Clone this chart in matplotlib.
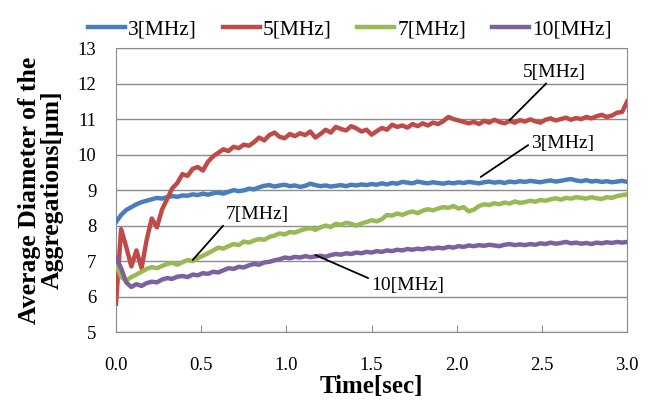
import matplotlib.pyplot as plt
import numpy as np

plt.rcParams['font.family'] = ['Liberation Serif', 'DejaVu Serif']

# time axis, sampled every 0.03 sec
time_sec = np.round(np.arange(0, 3.0001, 0.03), 2)

# average diameter for each frequency
d_3mhz = [8.10, 8.30, 8.44, 8.52, 8.60, 8.66, 8.70, 8.74, 8.78, 8.76,
          8.80, 8.83, 8.81, 8.85, 8.84, 8.88, 8.86, 8.90, 8.87, 8.91,
          8.93, 8.90, 8.95, 9.00, 8.97, 8.99, 9.04, 9.02, 9.08, 9.12,
          9.14, 9.10, 9.13, 9.15, 9.11, 9.13, 9.09, 9.12, 9.18, 9.14,
          9.11, 9.13, 9.10, 9.12, 9.14, 9.11, 9.15, 9.13, 9.16, 9.14,
          9.17, 9.15, 9.19, 9.16, 9.20, 9.18, 9.23, 9.21, 9.19, 9.24,
          9.21, 9.19, 9.22, 9.20, 9.18, 9.21, 9.19, 9.22, 9.20, 9.23,
          9.21, 9.19, 9.22, 9.24, 9.21, 9.23, 9.20, 9.24, 9.22, 9.25,
          9.23, 9.26, 9.24, 9.22, 9.25, 9.27, 9.24, 9.26, 9.29, 9.31,
          9.27, 9.25, 9.28, 9.24, 9.26, 9.23, 9.25, 9.22, 9.24, 9.26,
          9.23]
d_5mhz = [5.80, 7.90, 7.40, 6.85, 7.30, 6.80, 7.60, 8.20, 7.95, 8.45,
          8.75, 9.05, 9.20, 9.45, 9.40, 9.60, 9.65, 9.55, 9.80, 9.95,
          10.05, 10.15, 10.10, 10.22, 10.18, 10.28, 10.25, 10.35, 10.48, 10.40,
          10.55, 10.62, 10.50, 10.46, 10.58, 10.52, 10.60, 10.55, 10.65, 10.48,
          10.58, 10.70, 10.62, 10.78, 10.72, 10.68, 10.80, 10.74, 10.65, 10.70,
          10.56, 10.66, 10.75, 10.70, 10.84, 10.78, 10.82, 10.76, 10.86, 10.80,
          10.88, 10.82, 10.90, 10.86, 10.94, 11.06, 11.00, 10.96, 10.92, 10.88,
          10.92, 10.86, 10.95, 10.90, 10.98, 10.92, 10.88, 10.95, 10.90, 10.97,
          10.93, 10.99, 10.94, 10.90, 10.98, 11.02, 10.96, 11.00, 11.04, 10.98,
          11.03, 11.00, 11.06, 11.02, 11.08, 11.12, 11.06, 11.10, 11.18, 11.20,
          11.50]
d_7mhz = [6.90, 6.55, 6.45, 6.55, 6.62, 6.70, 6.78, 6.83, 6.80, 6.86,
          6.92, 6.95, 6.90, 6.97, 7.03, 7.00, 7.08, 7.15, 7.22, 7.30,
          7.38, 7.35, 7.42, 7.48, 7.45, 7.55, 7.52, 7.58, 7.62, 7.60,
          7.68, 7.72, 7.78, 7.75, 7.82, 7.80, 7.86, 7.90, 7.93, 7.88,
          7.95, 8.00, 7.96, 8.05, 8.02, 8.08, 8.05, 8.00, 8.06, 8.10,
          8.15, 8.12, 8.18, 8.30, 8.28, 8.34, 8.30, 8.36, 8.40, 8.35,
          8.42, 8.46, 8.43, 8.48, 8.52, 8.50, 8.55, 8.48, 8.52, 8.40,
          8.45, 8.55, 8.60, 8.58, 8.63, 8.60, 8.65, 8.62, 8.68, 8.64,
          8.66, 8.70, 8.67, 8.72, 8.70, 8.74, 8.77, 8.73, 8.78, 8.76,
          8.80, 8.78, 8.76, 8.80, 8.77, 8.75, 8.80, 8.78, 8.83, 8.86,
          8.88]
d_10mhz = [7.10, 6.80, 6.40, 6.27, 6.35, 6.30, 6.38, 6.42, 6.40, 6.48,
           6.52, 6.50, 6.56, 6.58, 6.55, 6.62, 6.60, 6.66, 6.64, 6.70,
           6.68, 6.74, 6.80, 6.78, 6.84, 6.82, 6.88, 6.92, 6.90, 6.96,
           6.98, 7.02, 7.05, 7.10, 7.08, 7.12, 7.10, 7.14, 7.11, 7.13,
           7.15, 7.12, 7.17, 7.20, 7.18, 7.22, 7.20, 7.24, 7.22, 7.26,
           7.24, 7.28, 7.26, 7.30, 7.28, 7.32, 7.30, 7.34, 7.32, 7.35,
           7.33, 7.37, 7.35, 7.38, 7.36, 7.40, 7.38, 7.42, 7.40, 7.44,
           7.42, 7.45, 7.43, 7.46, 7.44, 7.42, 7.46, 7.48, 7.45, 7.47,
           7.45, 7.48, 7.46, 7.50, 7.48, 7.52, 7.49, 7.51, 7.54, 7.50,
           7.52, 7.49, 7.51, 7.48, 7.52, 7.50, 7.53, 7.51, 7.54, 7.52,
           7.54]

labels = ['3[MHz]', '5[MHz]', '7[MHz]', '10[MHz]']
colors = ['#4a7ebb', '#be4b48', '#98b954', '#7d60a0']

fig = plt.figure(figsize=(6.48, 4.04), dpi=100)
ax = fig.add_axes([0.179, 0.178, 0.789, 0.703])

for d, lab, c in zip([d_3mhz, d_5mhz, d_7mhz, d_10mhz], labels, colors):
    ax.plot(time_sec, d, color=c, linewidth=3.2, label=lab, zorder=3)

# callout labels with leader lines: (text, point on line, text centre, where the line leaves the text)
callouts = [('5[MHz]', (2.31, 10.97), (2.57, 12.32), (0.42, 0.0)),
            ('3[MHz]', (2.14, 9.37), (2.62, 10.32), (0.0, 0.5)),
            ('7[MHz]', (0.45, 7.03), (0.83, 8.30), (0.0, 0.05)),
            ('10[MHz]', (1.17, 7.17), (1.71, 6.32), (0.0, 0.85))]
for txt, xy, xytext, rp in callouts:
    ax.annotate(txt, xy=xy, xytext=xytext, fontsize=14, ha='center', va='center',
                arrowprops=dict(arrowstyle='-', color='black', lw=1.3, shrinkA=0,
                                shrinkB=0, relpos=rp),
                zorder=4)

ax.set_xlim(0, 3.0)
ax.set_ylim(5, 13)
ax.set_xticks(np.arange(0, 3.01, 0.5))
ax.set_xticklabels([f'{v:.1f}' for v in np.arange(0, 3.01, 0.5)])
ax.set_yticks(np.arange(5, 13.1, 1))
ax.yaxis.grid(True, color='#8c8c8c', linewidth=1)
ax.set_axisbelow(True)
ax.tick_params(axis='x', direction='in', length=5, color='#8c8c8c', labelsize=13.5, pad=18)
ax.tick_params(axis='y', length=0, labelsize=13.5, pad=14)
for s in ax.spines.values():
    s.set_color('#8c8c8c')

ax.set_xlabel('Time[sec]', fontsize=18, fontweight='bold', labelpad=1)
ax.set_ylabel('Average Diameter of the\nAggregations[μm]', fontsize=18.5,
              fontweight='bold', labelpad=10, linespacing=1.0)

fig.legend(loc='upper center', bbox_to_anchor=(0.54, 1.0), ncol=4, frameon=False,
           fontsize=15.5, handlelength=1.7, handletextpad=0.15, columnspacing=1.2)

plt.savefig('out.png', dpi=100)
